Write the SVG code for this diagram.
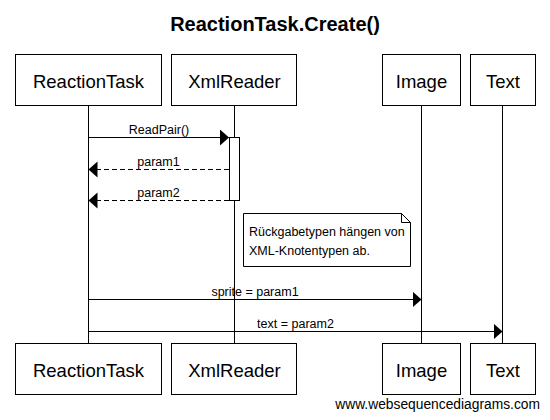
<svg xmlns="http://www.w3.org/2000/svg" width="550" height="420" viewBox="0 0 550 420">
<defs>
<marker id="ah" markerUnits="userSpaceOnUse" markerWidth="10" markerHeight="17" refX="9" refY="8" orient="auto">
<path d="M0,0 L9,8 L0,16 z" fill="#000"/>
</marker>
<style>
.box{fill:#fff;stroke:#000;stroke-width:1}
.life{stroke:#000;stroke-width:1;fill:none}
.msg{stroke:#000;stroke-width:1;fill:none;marker-end:url(#ah)}
.ret{stroke-dasharray:5,3}
.pl{font-family:"Liberation Sans",Arial,sans-serif;font-size:18.5px;text-anchor:middle;fill:#000}
.ml{font-family:"Liberation Sans",Arial,sans-serif;font-size:12.5px;text-anchor:middle;fill:#000}
.nt{font-family:"Liberation Sans",Arial,sans-serif;font-size:12.5px;fill:#000}
</style>
</defs>
<rect width="550" height="420" fill="#fff"/>
<text x="275" y="31" font-family="Liberation Sans,Arial,sans-serif" font-size="20" font-weight="bold" text-anchor="middle">ReactionTask.Create()</text>
<g id="lifelines">
<line class="life" x1="88.5" y1="106" x2="88.5" y2="343"/>
<line class="life" x1="234.5" y1="106" x2="234.5" y2="343"/>
<line class="life" x1="421.5" y1="106" x2="421.5" y2="343"/>
<line class="life" x1="502.5" y1="106" x2="502.5" y2="343"/>
</g>
<g id="ReactionTask">
<rect class="box" x="15.5" y="54.5" width="146" height="51"/>
<text class="pl" x="88.5" y="88">ReactionTask</text>
<rect class="box" x="15.5" y="343.5" width="146" height="51"/>
<text class="pl" x="88.5" y="377">ReactionTask</text>
</g>
<g id="XmlReader">
<rect class="box" x="171.5" y="54.5" width="125" height="51"/>
<text class="pl" x="234.5" y="88">XmlReader</text>
<rect class="box" x="171.5" y="343.5" width="125" height="51"/>
<text class="pl" x="234.5" y="377">XmlReader</text>
<rect id="activation" class="box" x="229.5" y="137.5" width="10" height="63"/>
</g>
<g id="Image">
<rect class="box" x="382.5" y="54.5" width="78" height="51"/>
<text class="pl" x="421.5" y="88">Image</text>
<rect class="box" x="382.5" y="343.5" width="78" height="51"/>
<text class="pl" x="421.5" y="377">Image</text>
</g>
<g id="Text">
<rect class="box" x="470.5" y="54.5" width="65" height="51"/>
<text class="pl" x="503" y="88">Text</text>
<rect class="box" x="470.5" y="343.5" width="65" height="51"/>
<text class="pl" x="503" y="377">Text</text>
</g>
<g id="connectors">
<line class="msg" x1="88.5" y1="137.5" x2="229" y2="137.5"/>
<text class="ml" x="159" y="134">ReadPair()</text>
<line class="msg ret" x1="229" y1="169.5" x2="88.5" y2="169.5"/>
<text class="ml" x="158.5" y="166">param1</text>
<line class="msg ret" x1="229" y1="200.5" x2="88.5" y2="200.5"/>
<text class="ml" x="158.5" y="197">param2</text>
<line class="msg" x1="88.5" y1="299.5" x2="421.5" y2="299.5"/>
<text class="ml" x="255" y="296">sprite = param1</text>
<line class="msg" x1="88.5" y1="331.5" x2="502.5" y2="331.5"/>
<text class="ml" x="295.5" y="328">text = param2</text>
</g>
<g id="note">
<path class="box" d="M243.5,213.5 H401.5 L410.5,222.5 V266.5 H243.5 Z"/>
<path d="M401.5,213.5 V222.5 H410.5" fill="none" stroke="#000"/>
<text class="nt" x="249" y="236">Rückgabetypen hängen von</text>
<text class="nt" x="249" y="255">XML-Knotentypen ab.</text>
</g>
<text x="540" y="409" font-family="Liberation Sans,Arial,sans-serif" font-size="13.8" text-anchor="end">www.websequencediagrams.com</text>
</svg>
